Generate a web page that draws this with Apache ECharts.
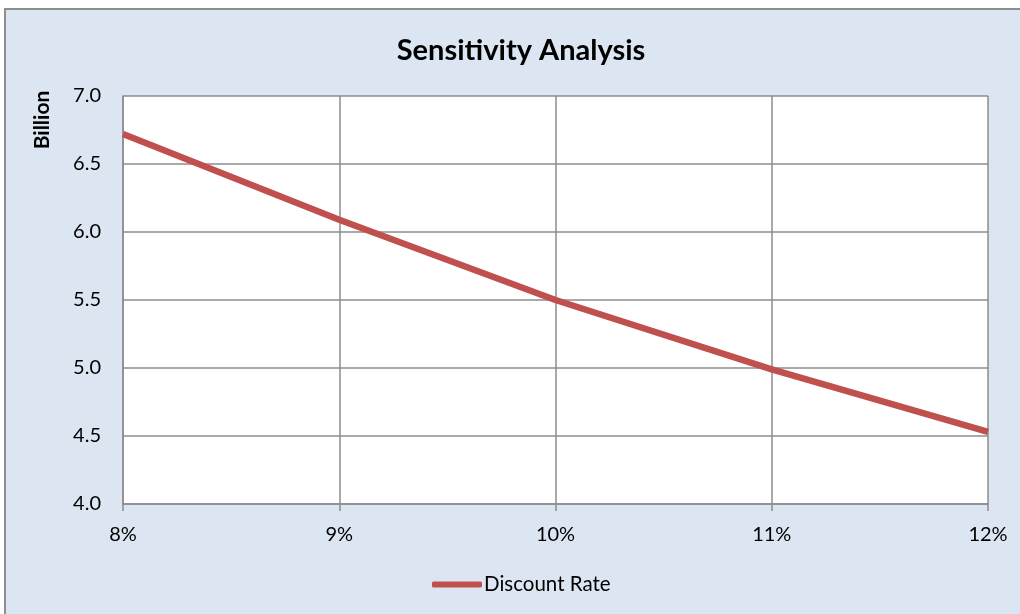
<!DOCTYPE html>
<html>
<head>
<meta charset="utf-8">
<title>Sensitivity Analysis</title>
<script src="https://cdn.jsdelivr.net/npm/echarts@6/dist/echarts.min.js"></script>
<style>
  html, body { margin: 0; padding: 0; background: #ffffff; }
  #frame {
    position: absolute; left: 4px; top: 8px; width: 1016px; height: 606px;
    background: #DCE6F2; border-top: 2px solid #8E8E8E; border-left: 2px solid #8E8E8E;
    box-sizing: border-box;
  }
  #chart { position: absolute; left: 0; top: 0; width: 1020px; height: 614px; }
</style>
</head>
<body>
<div id="frame"></div>
<div id="chart"></div>
<script>
// Discount rates on the horizontal axis
const rates = ['8%', '9%', '10%', '11%', '12%'];
// Valuation (billion) at each discount rate
const values = [6.72, 6.09, 5.50, 4.99, 4.53];
// Vertical axis range and step
const yMin = 4.0, yMax = 7.0, yStep = 0.5;

const font = 'Lato, "Open Sans", "Liberation Sans", sans-serif';
const gridGray = '#8C8C8C';

const chart = echarts.init(document.getElementById('chart'), null, { renderer: 'canvas' });
chart.setOption({
  backgroundColor: 'transparent',
  animation: false,
  title: {
    text: 'Sensitivity Analysis',
    left: 516, top: 31, textAlign: 'center',
    textStyle: { fontFamily: font, fontWeight: 'bold', fontSize: 29, color: '#000' }
  },
  graphic: [{
    type: 'text',
    x: 42, y: 120, rotation: Math.PI / 2,
    style: {
      text: 'Billion', fontFamily: font, fontWeight: 'bold', fontSize: 21,
      fill: '#000', align: 'center', verticalAlign: 'middle'
    }
  }],
  legend: {
    left: 432, top: 574, padding: 0,
    itemWidth: 50, itemHeight: 6, itemGap: 4,
    icon: 'roundRect',
    textStyle: { fontFamily: font, fontSize: 20.5, color: '#000', padding: [0, 0, 0, -3] },
    data: ['Discount Rate']
  },
  grid: { left: 123, right: 32, top: 96, bottom: 110, containLabel: false },
  xAxis: {
    type: 'category',
    data: rates,
    boundaryGap: false,
    axisLine: { lineStyle: { color: gridGray, width: 1.5 } },
    axisTick: { show: true, length: 7, lineStyle: { color: gridGray, width: 1.5 } },
    axisLabel: { fontFamily: font, fontSize: 20, color: '#000', margin: 21 },
    splitLine: { show: true, lineStyle: { color: gridGray, width: 1.5 } }
  },
  yAxis: {
    type: 'value',
    min: yMin, max: yMax, interval: yStep,
    axisLine: { show: true, lineStyle: { color: gridGray, width: 1.5 } },
    axisTick: { show: false },
    axisLabel: {
      fontFamily: font, fontSize: 20, color: '#000', margin: 22,
      formatter: v => v.toFixed(1)
    },
    splitLine: { show: true, lineStyle: { color: gridGray, width: 1.5 } }
  },
  series: [{
    name: 'Discount Rate',
    type: 'line',
    data: values,
    symbol: 'none',
    lineStyle: { color: '#C0504D', width: 6.5 },
    itemStyle: { color: '#C0504D' }
  }]
});
// Plot area fill
chart.setOption({
  grid: { show: true, backgroundColor: '#ffffff', borderWidth: 0 }
});
</script>
</body>
</html>
